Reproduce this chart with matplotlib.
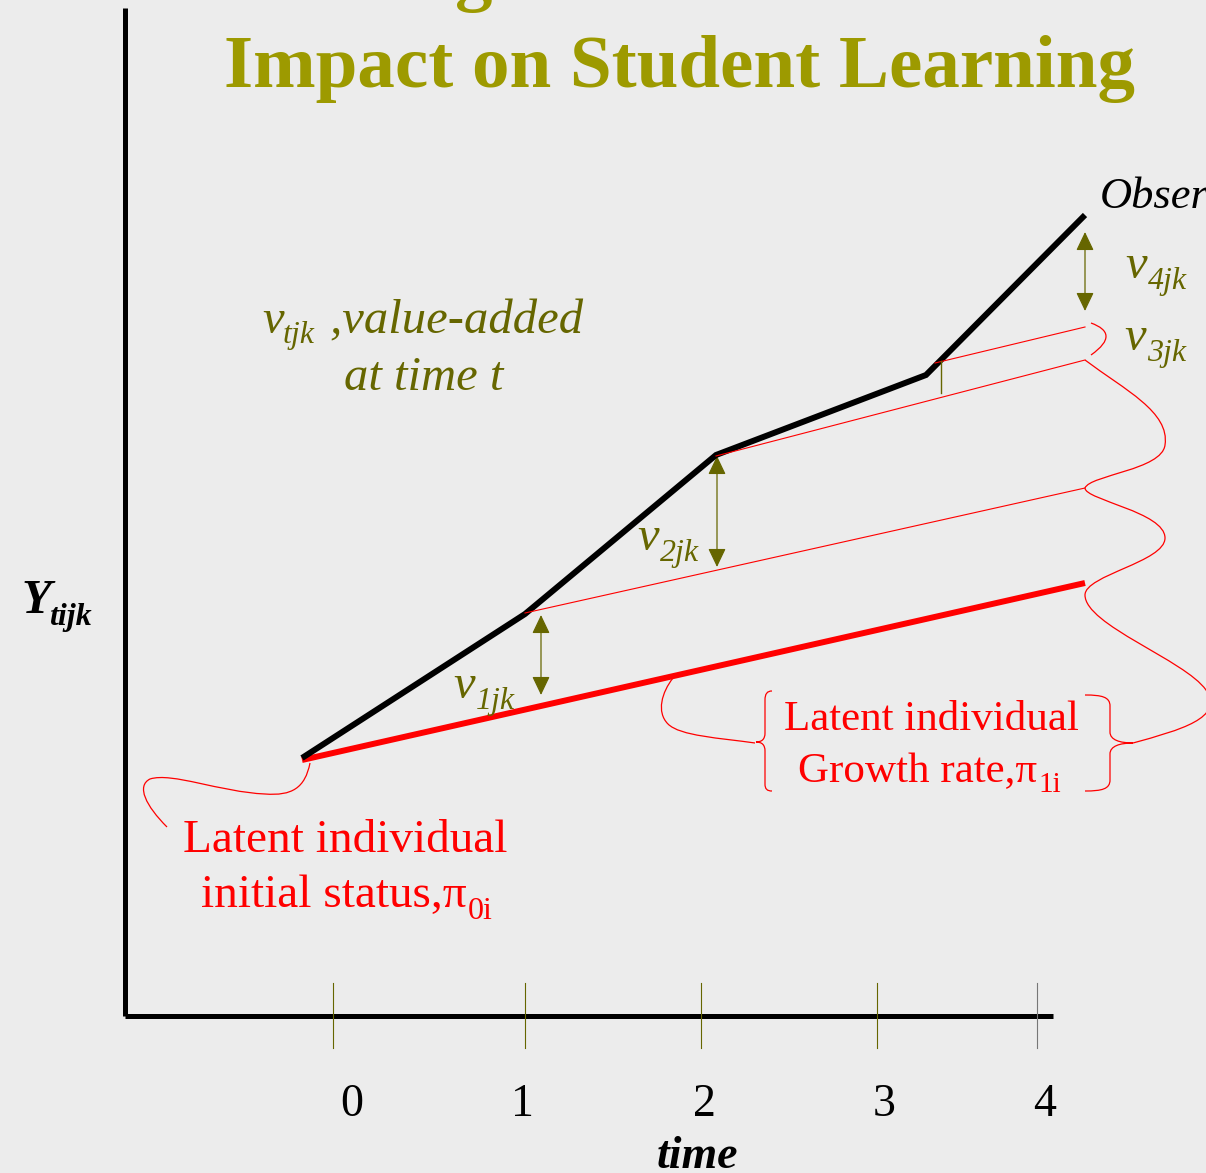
import matplotlib.pyplot as plt
from matplotlib.path import Path
from matplotlib.patches import PathPatch, FancyArrowPatch

# diagram drawn in pixel space of the slide (x right, y down)
obs_x = [302, 525, 716, 926, 1085]
obs_y = [758, 614, 455, 375, 215]
latent_x = [302, 1085]
latent_y = [760, 583]

# thin projections of the latent slope from each observed point
proj_x0 = [525, 716, 935]
proj_y0 = [613, 456, 363]
proj_x1 = [1085, 1085, 1085]
proj_y1 = [488, 360, 327]

tick_x = [333, 525, 701, 877, 1037]
tick_colors = ['#666600', '#666600', '#666600', '#666600', '#777777']
label_x = [352, 522, 704, 884, 1045]
tick_labels = ['0', '1', '2', '3', '4']

arrow_x = [541, 717, 1085]
arrow_top = [615, 456, 232]
arrow_bot = [695, 567, 311]

v_labels = ['1jk', '2jk', '4jk', '3jk']
v_x = [453, 637, 1125, 1124]
v_y = [698, 550, 278, 350]

BG = '#ececec'
RED = '#ff0000'
OLIVE = '#666600'
TITLE = '#9d9a00'
SERIF = 'Liberation Serif'

fig = plt.figure(figsize=(12.06, 11.73), dpi=100, facecolor=BG)
ax = fig.add_axes([0, 0, 1, 1])
ax.set_facecolor(BG)
ax.set_xlim(0, 1206)
ax.set_ylim(1173, 0)
ax.axis('off')

# axes of the diagram
ax.plot([125, 125], [8, 1016], color='black', lw=3.6, solid_capstyle='butt')
ax.plot([125, 1053], [1016, 1016], color='black', lw=3.6, solid_capstyle='butt')
for x, c in zip(tick_x, tick_colors):
    ax.plot([x, x], [983, 1048], color=c, lw=0.8)
for x, t in zip(label_x, tick_labels):
    ax.text(x, 1116, t, family=SERIF, fontsize=33, ha='center', va='baseline')
ax.text(697, 1168, 'time', family=SERIF, fontsize=33, style='italic',
        weight='bold', ha='center', va='baseline')
ax.text(22, 613, 'Y', family=SERIF, fontsize=35, style='italic',
        weight='bold', ha='left', va='baseline')
ax.text(49, 625, 'tijk', family=SERIF, fontsize=23, style='italic',
        weight='bold', ha='left', va='baseline')

# title (previous line mostly cut off above the slide)
ax.text(474, -3, 'g', family=SERIF, fontsize=54, weight='bold', color=TITLE,
        ha='center', va='baseline')
ax.text(679, 87, 'Impact on Student Learning', family=SERIF, fontsize=54,
        weight='bold', color=TITLE, ha='center', va='baseline')

# trajectories
ax.plot(latent_x, latent_y, color=RED, lw=4.3, solid_capstyle='butt')
ax.plot(obs_x, obs_y, color='black', lw=4.3, solid_capstyle='butt',
        solid_joinstyle='miter')
for x0, y0, x1, y1 in zip(proj_x0, proj_y0, proj_x1, proj_y1):
    ax.plot([x0, x1], [y0, y1], color=RED, lw=0.8)
ax.plot([941, 941], [361, 393], color=OLIVE, lw=1)

for x, y0, y1 in zip(arrow_x, arrow_top, arrow_bot):
    ar = FancyArrowPatch((x, y0), (x, y1), arrowstyle='<|-|>,head_length=1.15,head_width=0.55',
                         mutation_scale=10, color=OLIVE, lw=0.9, shrinkA=0, shrinkB=0)
    ax.add_patch(ar)

for lab, x, y in zip(v_labels, v_x, v_y):
    ax.text(x, y, 'v', family=SERIF, fontsize=35, style='italic', color=OLIVE,
            ha='left', va='baseline')
    ax.text(x + 23, y + 11, lab, family=SERIF, fontsize=23, style='italic',
            color=OLIVE, ha='left', va='baseline')

ax.text(262, 333, 'v', family=SERIF, fontsize=35, style='italic', color=OLIVE,
        ha='left', va='baseline')
ax.text(283, 343, 'tjk', family=SERIF, fontsize=23, style='italic', color=OLIVE,
        ha='left', va='baseline')
ax.text(318, 333, ' ,value-added', family=SERIF, fontsize=35, style='italic',
        color=OLIVE, ha='left', va='baseline')
ax.text(424, 390, 'at time t', family=SERIF, fontsize=35, style='italic',
        color=OLIVE, ha='center', va='baseline')

ax.text(1100, 208, 'Obser', family=SERIF, fontsize=32, style='italic',
        ha='left', va='baseline')

# red annotations
ax.text(345, 852, 'Latent individual', family=SERIF, fontsize=34, color=RED,
        ha='center', va='baseline')
ax.text(467, 907, 'initial status,\u03c0', family=SERIF, fontsize=34, color=RED,
        ha='right', va='baseline')
ax.text(468, 919, '0i', family=SERIF, fontsize=23, color=RED,
        ha='left', va='baseline')

ax.text(931, 730, 'Latent individual', family=SERIF, fontsize=31, color=RED,
        ha='center', va='baseline')
ax.text(1037, 782, 'Growth rate,\u03c0', family=SERIF, fontsize=31, color=RED,
        ha='right', va='baseline')
ax.text(1038, 792, '1i', family=SERIF, fontsize=21, color=RED,
        ha='left', va='baseline')


def bez(start, segs, lw=0.9):
    verts = [start]
    codes = [Path.MOVETO]
    for s in segs:
        if len(s) == 1:
            verts += s
            codes += [Path.LINETO]
        else:
            verts += s
            codes += [Path.CURVE4] * 3
    ax.add_patch(PathPatch(Path(verts, codes), fill=False, edgecolor=RED, lw=lw))


# braces round the growth text
bez((772, 691), [[(767, 691), (765, 694), (765, 700)], [(765, 733)],
                 [(765, 739), (762, 742), (756, 742)],
                 [(762, 742), (765, 745), (765, 751)], [(765, 784)],
                 [(765, 789), (767, 791), (772, 791)]])
bez((1085, 695), [[(1102, 695), (1110, 697), (1110, 706)], [(1110, 732)],
                  [(1110, 740), (1120, 743), (1133, 743)],
                  [(1120, 743), (1110, 746), (1110, 754)], [(1110, 780)],
                  [(1110, 789), (1102, 791), (1085, 791)]])

# connector from growth brace to latent line
bez((755, 743), [[(720, 738), (680, 736), (668, 724)],
                 [(656, 712), (662, 692), (673, 678)]])

# connector from initial status text to start point
bez((310, 763), [[(305, 788), (292, 796), (265, 794)],
                 [(220, 792), (172, 772), (150, 779)],
                 [(136, 786), (146, 806), (167, 827)]])

# sinuous right-hand brace chain
bez((1085, 360), [[(1125, 390), (1170, 412), (1165, 445)],
                  [(1162, 470), (1090, 475), (1085, 488)],
                  [(1085, 500), (1165, 512), (1165, 538)],
                  [(1165, 562), (1085, 575), (1085, 595)],
                  [(1085, 625), (1185, 660), (1206, 690)],
                  [(1225, 718), (1180, 730), (1133, 743)]])
bez((1091, 323), [[(1110, 330), (1112, 340), (1091, 355)]])

fig.savefig('out.png', dpi=100, facecolor=BG)
